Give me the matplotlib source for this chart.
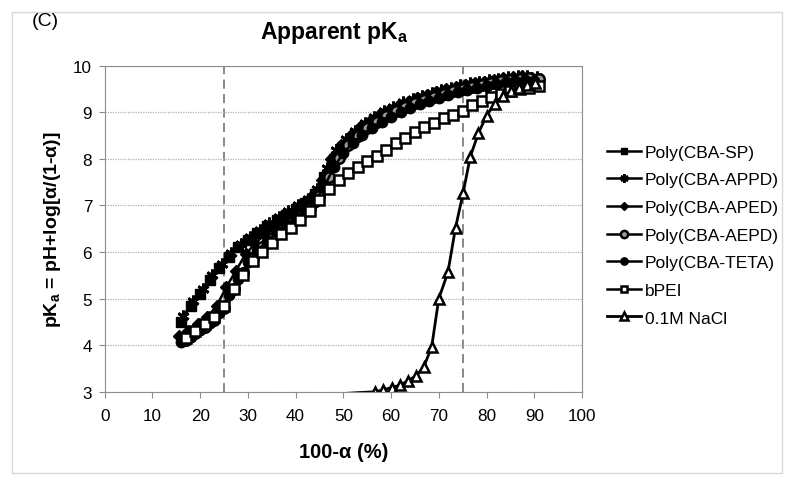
import matplotlib
matplotlib.use('Agg')
import matplotlib.pyplot as plt
from matplotlib.patches import Rectangle

plt.rcParams['font.family'] = ['Liberation Sans', 'DejaVu Sans']
plt.rcParams['mathtext.fontset'] = 'custom'
plt.rcParams['mathtext.rm'] = 'Liberation Sans'
plt.rcParams['mathtext.bf'] = 'Liberation Sans:bold'

# data
x_sp = [16, 18, 20, 22, 24, 26, 28, 30, 32, 34, 36, 38, 40, 42, 44, 46, 48, 50, 52, 54,
        56, 58, 60, 62, 64, 66, 68, 70, 72, 74, 76, 78, 80, 82, 84, 86, 88, 90]
y_sp = [4.5, 4.85, 5.1, 5.4, 5.65, 5.9, 6.1, 6.25, 6.4, 6.55, 6.68, 6.8, 6.92, 7.05, 7.25, 7.6, 8.0, 8.25, 8.45, 8.62,
        8.77, 8.9, 9.0, 9.1, 9.18, 9.26, 9.33, 9.4, 9.45, 9.5, 9.55, 9.6, 9.63, 9.67, 9.7, 9.72, 9.74, 9.72]

x_appd = [16.5, 18.5, 20.5, 22.5, 24.5, 26.5, 28.5, 30.5, 32.5, 34.5, 36.5, 38.5, 40.5, 42.5, 44.5, 46.5, 48.5, 50.5, 52.5, 54.5,
          56.5, 58.5, 60.5, 62.5, 64.5, 66.5, 68.5, 70.5, 72.5, 74.5, 76.5, 78.5, 80.5, 82.5, 84.5, 86.5, 88.5, 90.5]
y_appd = [4.62, 4.95, 5.2, 5.5, 5.75, 5.98, 6.17, 6.32, 6.47, 6.62, 6.75, 6.88, 7.0, 7.13, 7.35, 7.8, 8.18, 8.42, 8.6, 8.76,
          8.9, 9.02, 9.12, 9.21, 9.29, 9.36, 9.42, 9.48, 9.53, 9.58, 9.62, 9.66, 9.69, 9.72, 9.75, 9.77, 9.78, 9.75]

x_aped = [15.5, 17.5, 19.5, 21.5, 23.5, 25.5, 27.5, 29.5, 31.5, 33.5, 35.5, 37.5, 39.5, 41.5, 43.5, 45.5, 47.5, 49.5, 51.5, 53.5,
          55.5, 57.5, 59.5, 61.5, 63.5, 65.5, 67.5, 69.5, 71.5, 73.5, 75.5, 77.5, 79.5, 81.5, 83.5, 85.5, 87.5, 89.5]
y_aped = [4.2, 4.3, 4.45, 4.6, 4.85, 5.25, 5.6, 5.95, 6.18, 6.38, 6.55, 6.7, 6.85, 7.0, 7.2, 7.55, 8.0, 8.3, 8.52, 8.68,
          8.82, 8.95, 9.05, 9.14, 9.22, 9.3, 9.37, 9.43, 9.49, 9.54, 9.58, 9.62, 9.66, 9.7, 9.73, 9.75, 9.77, 9.74]

x_aepd = [17, 19, 21, 23, 25, 27, 29, 31, 33, 35, 37, 39, 41, 43, 45, 47, 49, 51, 53, 55,
          57, 59, 61, 63, 65, 67, 69, 71, 73, 75, 77, 79, 81, 83, 85, 87, 89, 91]
y_aepd = [4.12, 4.25, 4.38, 4.55, 4.8, 5.2, 5.55, 5.88, 6.1, 6.3, 6.48, 6.62, 6.78, 6.95, 7.2, 7.62, 8.02, 8.3, 8.5, 8.66,
          8.8, 8.92, 9.02, 9.11, 9.19, 9.26, 9.33, 9.39, 9.45, 9.5, 9.55, 9.59, 9.63, 9.67, 9.7, 9.72, 9.74, 9.71]

x_teta = [16, 18, 20, 22, 24, 26, 28, 30, 32, 34, 36, 38, 40, 42, 44, 46, 48, 50, 52, 54,
          56, 58, 60, 62, 64, 66, 68, 70, 72, 74, 76, 78, 80, 82, 84, 86, 88, 90]
y_teta = [4.06, 4.18, 4.33, 4.48, 4.68, 5.08, 5.42, 5.78, 6.03, 6.23, 6.43, 6.58, 6.73, 6.88, 7.08, 7.4, 7.82, 8.12, 8.35, 8.52,
          8.67, 8.8, 8.9, 9.0, 9.09, 9.17, 9.24, 9.31, 9.37, 9.43, 9.48, 9.53, 9.57, 9.61, 9.65, 9.68, 9.7, 9.68]

x_bpei = [17, 19, 21, 23, 25, 27, 29, 31, 33, 35, 37, 39, 41, 43, 45, 47, 49, 51, 53, 55,
          57, 59, 61, 63, 65, 67, 69, 71, 73, 75, 77, 79, 81, 83, 85, 87, 89, 91]
y_bpei = [4.15, 4.3, 4.45, 4.6, 4.85, 5.2, 5.5, 5.8, 6.0, 6.2, 6.38, 6.52, 6.68, 6.88, 7.12, 7.35, 7.55, 7.7, 7.82, 7.95,
          8.07, 8.2, 8.33, 8.45, 8.57, 8.68, 8.78, 8.87, 8.95, 9.03, 9.15, 9.25, 9.33, 9.4, 9.45, 9.5, 9.53, 9.57]

x_nacl = [48, 50, 53, 55, 56.7, 58.4, 60.1, 61.9, 63.6, 65.2, 66.8, 68.5, 70.0, 71.9, 73.5, 75.1,
          76.6, 78.3, 80.0, 81.7, 83.4, 85.1, 86.8, 88.5, 90.2]
y_nacl = [2.9, 2.96, 2.98, 2.99, 3.0, 3.04, 3.09, 3.14, 3.24, 3.34, 3.52, 3.96, 5.0, 5.56, 6.52, 7.27,
          8.05, 8.55, 8.93, 9.18, 9.35, 9.45, 9.52, 9.58, 9.62]

fig = plt.figure(figsize=(8, 4.85), dpi=100)
fig.patches.append(Rectangle((12/800, 1-474/485), 770/800, 461/485, transform=fig.transFigure,
                             fill=False, edgecolor='#d9d9d9', lw=1))
ax = fig.add_axes([104.7/800, 1-392.7/485, 477.3/800, 326/485])

ms = 7.5
ax.plot(x_sp, y_sp, 'k-', marker='s', ms=ms-0.5, lw=1.8, label='Poly(CBA-SP)')
ax.plot(x_appd, y_appd, 'k-', marker=(6, 2, 0), ms=ms+1, mew=2, lw=1.8, label='Poly(CBA-APPD)')
ax.plot(x_aped, y_aped, 'k-', marker='D', ms=ms-1, lw=1.8, label='Poly(CBA-APED)')
ax.plot(x_aepd, y_aepd, 'k-', marker='o', ms=ms, mfc='#999999', mew=1.8, lw=1.8, label='Poly(CBA-AEPD)')
ax.plot(x_teta, y_teta, 'k-', marker='o', ms=ms, lw=1.8, label='Poly(CBA-TETA)')
ax.plot(x_bpei, y_bpei, 'k-', marker='s', ms=ms-1, mfc='white', mew=1.8, lw=1.8, label='bPEI')
ax.plot(x_nacl, y_nacl, 'k-', marker='^', ms=ms, mfc='white', mew=1.8, lw=2,
        markevery=list(range(4, len(x_nacl))), label='0.1M NaCl')

ax.axvline(25, color='#7f7f7f', ls=(0, (5, 3)), lw=1.3, zorder=0)
ax.axvline(75, color='#7f7f7f', ls=(0, (5, 3)), lw=1.3, zorder=0)

ax.set_xlim(0, 100)
ax.set_ylim(3, 10)
ax.set_xticks(range(0, 101, 10))
ax.set_yticks(range(3, 11))
ax.yaxis.grid(True, color='#b0b0b0', ls=(0, (1, 1)), lw=0.9)
ax.set_axisbelow(True)
for s in ax.spines.values():
    s.set_color('#8c8c8c')
ax.tick_params(axis='both', direction='out', length=4, color='#8c8c8c', labelsize=12.3)
ax.tick_params(axis='x', pad=8)
ax.tick_params(axis='y', pad=5)

ax.set_xlabel('100-α (%)', fontsize=14.5, fontweight='bold')
ax.xaxis.set_label_coords(0.5, -0.155)
ax.set_ylabel(r'pK$_\mathbf{a}$ = pH+log[α/(1-α)]', fontsize=14, fontweight='bold')
ax.yaxis.set_label_coords(-0.088, 0.5)

fig.text(334/800, 1-33/485, r'Apparent pK$_\mathbf{a}$', fontsize=16.5, fontweight='bold', ha='center', va='center')
fig.text(32/800, 1-22/485, '(C)', fontsize=14, va='center')

leg = ax.legend(loc='center left', bbox_to_anchor=(598/800, 1-236/485), bbox_transform=fig.transFigure,
                frameon=False, fontsize=12.5, handlelength=2.0, handletextpad=0.2, labelspacing=0.72,
                borderpad=0, markerscale=0.7)

fig.savefig('out.png', dpi=100)
